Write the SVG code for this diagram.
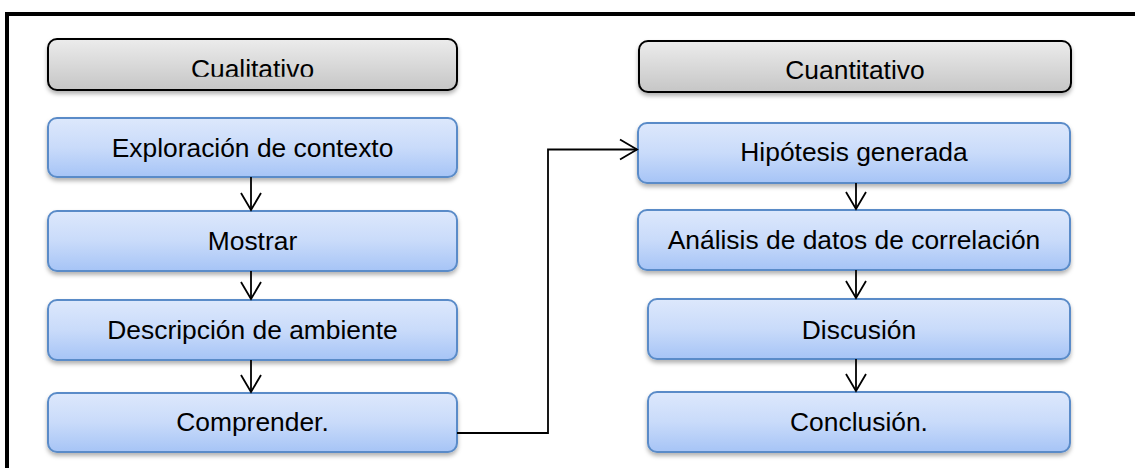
<svg xmlns="http://www.w3.org/2000/svg" width="1135" height="468" viewBox="0 0 1135 468">
<style>
.blue{fill:url(#gBlue);stroke:#5a8bc8;stroke-width:2;filter:url(#sh)}
.gray{fill:url(#gGray);stroke:#000;stroke-width:2;filter:url(#sh)}
text{font-family:"Liberation Sans",Arial,sans-serif;font-size:26.4px;fill:#000;text-anchor:middle}
.con{fill:none;stroke:#000;stroke-width:1.8;marker-end:url(#arr)}
</style>
<defs>
<linearGradient id="gBlue" x1="0" y1="0" x2="0" y2="1">
<stop offset="0" stop-color="#dde8fc"/>
<stop offset="0.5" stop-color="#c9dbfa"/>
<stop offset="1" stop-color="#a6c4f6"/>
</linearGradient>
<linearGradient id="gGray" x1="0" y1="0" x2="0" y2="1">
<stop offset="0" stop-color="#ececec"/>
<stop offset="1" stop-color="#c6c6c6"/>
</linearGradient>
<filter id="sh" x="-5%" y="-20%" width="110%" height="150%">
<feDropShadow dx="0" dy="3" stdDeviation="2" flood-color="#000" flood-opacity="0.3"/>
</filter>
<clipPath id="cut"><rect x="0" y="0" width="1135" height="76.8"/></clipPath>
<marker id="arr" viewBox="-19 -12 21 24" refX="0" refY="0" markerWidth="21" markerHeight="24" markerUnits="userSpaceOnUse" orient="auto">
<path d="M-17,-10 L0,0 L-17,10" fill="none" stroke="#000" stroke-width="1.8"/>
</marker>
</defs>
<rect x="0" y="0" width="1135" height="468" fill="#fff"/>
<rect id="frame" x="7" y="14" width="1140" height="470" fill="none" stroke="#000" stroke-width="4"/>

<g id="n-cualitativo"><rect class="gray" x="48" y="39" width="409" height="51" rx="9"/><text x="252.5" y="78" clip-path="url(#cut)">Cualitativo</text></g>
<g id="n-exploracion"><rect class="blue" x="48" y="118" width="409" height="59" rx="9"/><text x="252.5" y="157">Exploración de contexto</text></g>
<g id="n-mostrar"><rect class="blue" x="48" y="211" width="409" height="60" rx="9"/><text x="252.5" y="250">Mostrar</text></g>
<g id="n-descripcion"><rect class="blue" x="48" y="300" width="409" height="60" rx="9"/><text x="252.5" y="339">Descripción de ambiente</text></g>
<g id="n-comprender"><rect class="blue" x="48" y="393" width="409" height="59" rx="9"/><text x="252.5" y="431">Comprender.</text></g>

<g id="n-cuantitativo"><rect class="gray" x="639" y="41" width="432" height="51" rx="9"/><text x="855" y="79">Cuantitativo</text></g>
<g id="n-hipotesis"><rect class="blue" x="638" y="123" width="432" height="60" rx="9"/><text x="854" y="161">Hipótesis generada</text></g>
<g id="n-analisis"><rect class="blue" x="638" y="210" width="432" height="60" rx="9"/><text x="854" y="249">Análisis de datos de correlación</text></g>
<g id="n-discusion"><rect class="blue" x="648" y="299" width="422" height="60" rx="9"/><text x="859" y="339">Discusión</text></g>
<g id="n-conclusion"><rect class="blue" x="648" y="392" width="422" height="60" rx="9"/><text x="859" y="431">Conclusión.</text></g>

<g id="connectors">
<path class="con" d="M251,177 V210"/>
<path class="con" d="M251,271 V299"/>
<path class="con" d="M251,360 V392"/>
<path class="con" d="M457,433 H548 V149.5 H637"/>
<path class="con" d="M856,183 V209"/>
<path class="con" d="M856,270 V298"/>
<path class="con" d="M856,359 V391"/>
</g>
</svg>
